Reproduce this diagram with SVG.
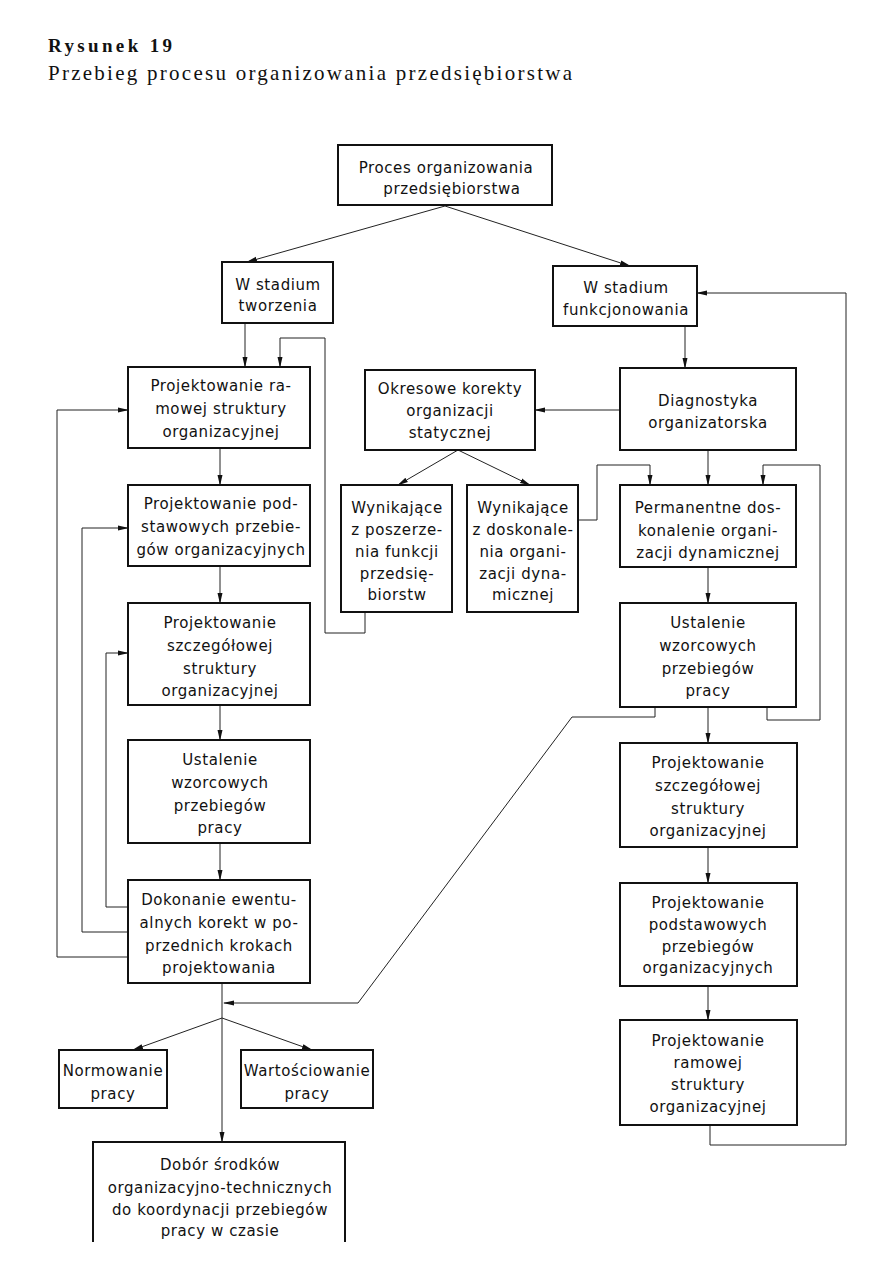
<svg xmlns="http://www.w3.org/2000/svg" width="893" height="1263" viewBox="0 0 893 1263">
<style>
.box{fill:#fff;stroke:#111;stroke-width:2}
.t{font-family:"DejaVu Sans","Liberation Sans",sans-serif;font-size:15px;letter-spacing:0.6px;fill:#111;text-anchor:middle}
.c{fill:none;stroke:#222;stroke-width:1}
.a{fill:none;stroke:#222;stroke-width:1;marker-end:url(#ah)}
.title{font-family:"Liberation Serif","DejaVu Serif",serif;fill:#111}
</style>
<defs>
<marker id="ah" markerWidth="11" markerHeight="6" refX="10" refY="3" orient="auto" markerUnits="userSpaceOnUse">
<path d="M0,0.5 L11,3 L0,5.5 z" fill="#111"/>
</marker>
</defs>
<rect width="893" height="1263" fill="#fff"/>
<g id="title">
<text class="title" x="48" y="52" font-size="19" font-weight="bold" textLength="124" lengthAdjust="spacing">Rysunek 19</text>
<text class="title" x="48" y="80" font-size="21" textLength="524" lengthAdjust="spacing">Przebieg procesu organizowania przedsiębiorstwa</text>
</g>
<g id="connectors">
<line class="a" x1="445" y1="206" x2="247" y2="262"/>
<line class="a" x1="445" y1="206" x2="630" y2="266"/>
<line class="a" x1="245" y1="323" x2="245" y2="367"/>
<polyline class="a" points="365,612 365,633 325,633 325,338 280,338 280,367"/>
<line class="a" x1="220" y1="448" x2="220" y2="485"/>
<line class="a" x1="220" y1="566" x2="220" y2="603"/>
<line class="a" x1="220" y1="705" x2="220" y2="740"/>
<line class="a" x1="220" y1="843" x2="220" y2="880"/>
<polyline class="a" points="128,957 57,957 57,410 128,410"/>
<polyline class="a" points="128,932 82,932 82,528 128,528"/>
<polyline class="a" points="128,907 106,907 106,653 128,653"/>
<line class="a" x1="222" y1="983" x2="222" y2="1142"/>
<line class="a" x1="222" y1="1018" x2="133" y2="1050"/>
<line class="a" x1="222" y1="1018" x2="312" y2="1050"/>
<polyline class="a" points="655,707 655,717 572,717 358,1003 224,1003"/>
<line class="a" x1="620" y1="410" x2="535" y2="410"/>
<line class="a" x1="458" y1="450" x2="398" y2="485"/>
<line class="a" x1="458" y1="450" x2="530" y2="485"/>
<polyline class="a" points="578,520 597,520 597,465 650,465 650,485"/>
<line class="a" x1="685" y1="326" x2="685" y2="368"/>
<line class="a" x1="708" y1="450" x2="708" y2="485"/>
<polyline class="a" points="767,707 767,720 820,720 820,465 763,465 763,485"/>
<line class="a" x1="708" y1="567" x2="708" y2="603"/>
<line class="a" x1="708" y1="707" x2="708" y2="743"/>
<line class="a" x1="708" y1="847" x2="708" y2="883"/>
<line class="a" x1="708" y1="986" x2="708" y2="1020"/>
<polyline class="a" points="710,1125 710,1145 846,1145 846,293 697,293"/>
</g>
<g id="n-proces">
<rect class="box" x="338" y="145" width="214" height="60"/>
<text class="t" x="446" y="173">Proces organizowania</text>
<text class="t" x="452" y="194">przedsiębiorstwa</text>
</g>
<g id="n-tworzenia">
<rect class="box" x="222" y="262" width="111" height="61"/>
<text class="t" x="278" y="290">W stadium</text>
<text class="t" x="278" y="311">tworzenia</text>
</g>
<g id="n-funkcjonowania">
<rect class="box" x="553" y="266" width="144" height="60"/>
<text class="t" x="626" y="293">W stadium</text>
<text class="t" x="626" y="315">funkcjonowania</text>
</g>
<g id="n-l-ramowa">
<rect class="box" x="128" y="367" width="182" height="81"/>
<text class="t" x="221" y="391">Projektowanie ra-</text>
<text class="t" x="221" y="414">mowej struktury</text>
<text class="t" x="221" y="437">organizacyjnej</text>
</g>
<g id="n-l-podstawowe">
<rect class="box" x="128" y="485" width="182" height="81"/>
<text class="t" x="221" y="509">Projektowanie pod-</text>
<text class="t" x="221" y="532">stawowych przebie-</text>
<text class="t" x="221" y="555">gów organizacyjnych</text>
</g>
<g id="n-l-szczegolowa">
<rect class="box" x="128" y="603" width="182" height="102"/>
<text class="t" x="220" y="628">Projektowanie</text>
<text class="t" x="220" y="651">szczegółowej</text>
<text class="t" x="220" y="674">struktury</text>
<text class="t" x="220" y="696">organizacyjnej</text>
</g>
<g id="n-l-ustalenie">
<rect class="box" x="128" y="740" width="182" height="103"/>
<text class="t" x="220" y="765">Ustalenie</text>
<text class="t" x="220" y="788">wzorcowych</text>
<text class="t" x="220" y="811">przebiegów</text>
<text class="t" x="220" y="833">pracy</text>
</g>
<g id="n-dokonanie">
<rect class="box" x="128" y="880" width="182" height="103"/>
<text class="t" x="219" y="905">Dokonanie ewentu-</text>
<text class="t" x="219" y="928">alnych korekt w po-</text>
<text class="t" x="219" y="951">przednich krokach</text>
<text class="t" x="219" y="973">projektowania</text>
</g>
<g id="n-normowanie">
<rect class="box" x="59" y="1050" width="108" height="58"/>
<text class="t" x="113" y="1076">Normowanie</text>
<text class="t" x="113" y="1099">pracy</text>
</g>
<g id="n-wartosciowanie">
<rect class="box" x="241" y="1050" width="132" height="58"/>
<text class="t" x="307" y="1076">Wartościowanie</text>
<text class="t" x="307" y="1099">pracy</text>
</g>
<g id="n-dobor">
<path class="box" d="M93,1242 V1142 H345 V1242"/>
<text class="t" x="220" y="1170">Dobór środków</text>
<text class="t" x="220" y="1193">organizacyjno-technicznych</text>
<text class="t" x="220" y="1215">do koordynacji przebiegów</text>
<text class="t" x="220" y="1236">pracy w czasie</text>
</g>
<g id="n-okresowe">
<rect class="box" x="365" y="370" width="170" height="80"/>
<text class="t" x="450" y="394">Okresowe korekty</text>
<text class="t" x="450" y="416">organizacji</text>
<text class="t" x="450" y="438">statycznej</text>
</g>
<g id="n-wyn-poszerzenia">
<rect class="box" x="341" y="485" width="111" height="127"/>
<text class="t" x="397" y="513">Wynikające</text>
<text class="t" x="397" y="535">z poszerze-</text>
<text class="t" x="397" y="557">nia funkcji</text>
<text class="t" x="397" y="579">przedsię-</text>
<text class="t" x="397" y="600">biorstw</text>
</g>
<g id="n-wyn-doskonalenia">
<rect class="box" x="467" y="485" width="111" height="127"/>
<text class="t" x="523" y="513">Wynikające</text>
<text class="t" x="523" y="535">z doskonale-</text>
<text class="t" x="523" y="557">nia organi-</text>
<text class="t" x="523" y="579">zacji dyna-</text>
<text class="t" x="523" y="600">micznej</text>
</g>
<g id="n-diagnostyka">
<rect class="box" x="620" y="368" width="176" height="82"/>
<text class="t" x="708" y="406">Diagnostyka</text>
<text class="t" x="708" y="428">organizatorska</text>
</g>
<g id="n-permanentne">
<rect class="box" x="620" y="485" width="176" height="82"/>
<text class="t" x="708" y="513">Permanentne dos-</text>
<text class="t" x="708" y="536">konalenie organi-</text>
<text class="t" x="708" y="558">zacji dynamicznej</text>
</g>
<g id="n-r-ustalenie">
<rect class="box" x="620" y="603" width="176" height="104"/>
<text class="t" x="708" y="628">Ustalenie</text>
<text class="t" x="708" y="651">wzorcowych</text>
<text class="t" x="708" y="674">przebiegów</text>
<text class="t" x="708" y="696">pracy</text>
</g>
<g id="n-r-szczegolowa">
<rect class="box" x="620" y="743" width="177" height="104"/>
<text class="t" x="708" y="768">Projektowanie</text>
<text class="t" x="708" y="791">szczegółowej</text>
<text class="t" x="708" y="814">struktury</text>
<text class="t" x="708" y="836">organizacyjnej</text>
</g>
<g id="n-r-podstawowe">
<rect class="box" x="620" y="883" width="177" height="103"/>
<text class="t" x="708" y="908">Projektowanie</text>
<text class="t" x="708" y="930">podstawowych</text>
<text class="t" x="708" y="952">przebiegów</text>
<text class="t" x="708" y="973">organizacyjnych</text>
</g>
<g id="n-r-ramowa">
<rect class="box" x="620" y="1020" width="177" height="105"/>
<text class="t" x="708" y="1046">Projektowanie</text>
<text class="t" x="708" y="1068">ramowej</text>
<text class="t" x="708" y="1090">struktury</text>
<text class="t" x="708" y="1112">organizacyjnej</text>
</g>
</svg>
